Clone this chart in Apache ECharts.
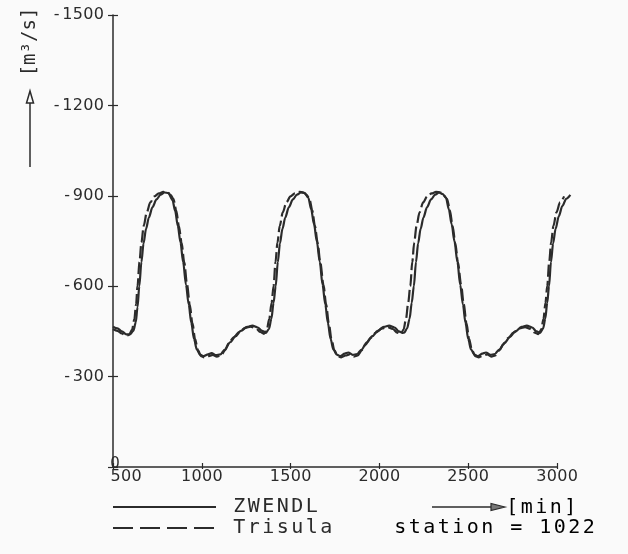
<!DOCTYPE html>
<html>
<head>
<meta charset="utf-8">
<style>
  html, body { margin: 0; padding: 0; background: #fafafa; }
  #chart { width: 628px; height: 554px; }
</style>
<script src="https://cdn.jsdelivr.net/npm/echarts@6/dist/echarts.min.js"></script>
</head>
<body>
<div id="chart"></div>
<script>
// Discharge at station 1022, two model runs (time in minutes, discharge in m³/s)
const zwendlT = [
  500, 525, 550, 575, 595, 615, 628, 638, 648, 660, 672, 686, 702, 722, 745, 768, 790, 812,
  835, 850, 865, 880, 895, 911, 926, 941, 956, 972, 990, 1010, 1035, 1055, 1080, 1105, 1130,
  1160, 1190, 1220, 1255, 1285, 1315, 1340, 1360, 1378, 1392, 1404, 1416, 1428, 1440, 1454,
  1470, 1490, 1513, 1536, 1558, 1580, 1600, 1616, 1632, 1648, 1664, 1680, 1695, 1710, 1725,
  1741, 1760, 1780, 1805, 1825, 1850, 1875, 1900, 1930, 1960, 1990, 2025, 2055, 2085, 2110,
  2130, 2140, 2156, 2170, 2182, 2194, 2206, 2218, 2232, 2248, 2268, 2291, 2314, 2336, 2356,
  2375, 2391, 2407, 2423, 2439, 2455, 2470, 2485, 2500, 2516, 2535, 2555, 2580, 2600, 2625,
  2650, 2675, 2705, 2735, 2765, 2800, 2830, 2860, 2885, 2905, 2922, 2934, 2945, 2955, 2966,
  2978, 2992, 3010, 3030, 3052, 3075
];
const zwendlQ = [
  -466, -460, -450, -440, -440, -452, -480, -530, -600, -680, -742, -790, -828, -862, -888, -904, -911, -909,
  -886, -850, -800, -745, -680, -605, -540, -478, -425, -390, -373, -368, -374, -378, -371, -374, -390,
  -414, -434, -452, -465, -469, -463, -452, -445, -458, -492, -545, -600, -680, -742, -790,
  -828, -862, -888, -904, -911, -909, -893, -855, -805, -748, -682, -605, -540, -478, -425,
  -390, -373, -368, -376, -380, -372, -375, -390, -414, -434, -452, -465, -469, -463, -450,
  -445, -446, -460, -492, -545, -600, -680, -742, -790, -828, -862, -888, -904, -911, -906,
  -893, -855, -805, -748, -682, -605, -540, -478, -425, -390, -373, -368, -376, -380, -372,
  -375, -390, -412, -432, -450, -465, -469, -463, -450, -445, -460, -492, -545, -600, -680,
  -742, -790, -832, -866, -890, -903
];

const trisulaT = [
  500, 525, 550, 572, 590, 607, 620, 630, 638, 649, 660, 673, 690, 710, 733, 758, 783, 808,
  825, 840, 856, 871, 886, 901, 917, 932, 947, 962, 978, 996, 1015, 1040, 1062, 1085, 1108,
  1132, 1150, 1180, 1210, 1245, 1275, 1305, 1330, 1350, 1366, 1380, 1393, 1404, 1415, 1426,
  1439, 1456, 1476, 1499, 1524, 1549, 1574, 1591, 1606, 1622, 1637, 1652, 1667, 1685, 1700,
  1715, 1730, 1746, 1764, 1785, 1810, 1832, 1855, 1878, 1902, 1920, 1950, 1980, 2015, 2045,
  2075, 2100, 2120, 2136, 2150, 2162, 2174, 2185, 2196, 2209, 2226, 2246, 2269, 2294, 2319,
  2344, 2362, 2381, 2397, 2412, 2427, 2442, 2460, 2475, 2490, 2505, 2521, 2540, 2560, 2585,
  2607, 2630, 2653, 2677, 2695, 2725, 2755, 2790, 2820, 2850, 2875, 2895, 2911, 2924, 2935,
  2945, 2956, 2967, 2980, 2997, 3017, 3040
];
const trisulaQ = [
  -458, -452, -443, -436, -438, -455, -490, -540, -600, -680, -745, -800, -845, -878, -898, -908, -913, -911,
  -902, -890, -852, -800, -745, -680, -605, -540, -478, -425, -388, -368, -364, -368, -372, -366, -370,
  -388, -410, -430, -448, -462, -466, -460, -448, -442, -456, -492, -545, -600, -680, -745,
  -800, -845, -878, -898, -908, -913, -911, -902, -890, -852, -800, -745, -680, -605, -540,
  -478, -425, -388, -368, -364, -370, -374, -366, -370, -388, -405, -428, -446, -460, -464,
  -458, -446, -441, -456, -492, -545, -600, -680, -745, -800, -845, -878, -898, -908, -913,
  -911, -902, -890, -852, -800, -745, -680, -605, -540, -478, -425, -388, -368, -364, -370,
  -374, -366, -370, -388, -405, -428, -446, -460, -464, -458, -446, -441, -456, -492, -545,
  -600, -680, -745, -800, -845, -878, -898
];

const yTicks = ['-1500', '-1200', '-900', '-600', '-300', '0'];
const xTicks = ['500', '1000', '1500', '2000', '2500', '3000'];
const seriesNames = ['ZWENDL', 'Trisula'];

const SANS = 'DejaVu Sans';
const MONO = 'DejaVu Sans Mono';
const INK = '#2b2b2b';
const PAPER = '#fafafa';

// Plotter-style lettering: every character sits in a box of the same width
function spaced(text, tag) {
  return text.split('').map(ch => '{' + tag + '|' + ch + '}').join('');
}
const wideRich = {
  c: { width: 14.5, height: 14, align: 'center', fontFamily: MONO, fontSize: 20, lineHeight: 14, color: INK },
  g: { width: 11, height: 14, fontFamily: MONO, fontSize: 20, lineHeight: 14 }
};
const tickRich = {
  t: { width: 10.5, align: 'center', fontFamily: SANS, fontSize: 16, color: INK },
  p: { width: 13, fontFamily: SANS, fontSize: 16 }
};

const pairs = (ts, qs) => ts.map((t, i) => [t, qs[i]]);

// The curves run a little past the last tick, so they live in a second, invisible
// grid whose scale equals the visible one but reaches further to the right.
const X_MIN = 500, X_MAX = 3000, X_EXT = 3100;
const GRID_LEFT = 113, GRID_RIGHT = 71;
const plotW = 628 - GRID_LEFT - GRID_RIGHT;
const extRight = 628 - GRID_LEFT - plotW * (X_EXT - X_MIN) / (X_MAX - X_MIN);

const chart = echarts.init(document.getElementById('chart'), null, { renderer: 'canvas' });

const yRange = { type: 'value', min: -1500, max: 0, interval: 300, inverse: true, splitLine: { show: false } };
const xRange = { type: 'value', min: X_MIN, max: X_MAX, interval: 500, splitLine: { show: false } };

// One legend block per row, so each key line sits exactly on its row
function legendRow(name, top, lineStyle) {
  return {
    orient: 'vertical',
    left: 112,
    top: top,
    padding: 0,
    itemWidth: 103,
    itemHeight: 14,
    selectedMode: false,
    itemStyle: { opacity: 0 },
    data: [lineStyle ? { name: name, lineStyle: lineStyle } : { name: name }],
    formatter: n => '{g| }' + spaced(n, 'c'),
    textStyle: { fontSize: 14, lineHeight: 14, height: 14, rich: wideRich }
  };
}

chart.setOption({
  backgroundColor: PAPER,
  animation: false,
  grid: [
    { left: GRID_LEFT, right: GRID_RIGHT, top: 15, bottom: 87 },
    { left: GRID_LEFT, right: extRight, top: 15, bottom: 87 }
  ],
  xAxis: [
    Object.assign({}, xRange, {
      gridIndex: 0,
      axisLine: { show: true, lineStyle: { color: INK, width: 1.5 } },
      axisTick: { show: true, inside: true, length: 4, lineStyle: { color: INK, width: 1.2 } },
      axisLabel: {
        margin: 2,
        formatter: v => {
          const s = spaced(xTicks[Math.round((v - X_MIN) / 500)], 't');
          return v === X_MIN ? '{p| }{p| }' + s : s;
        },
        rich: tickRich
      }
    }),
    Object.assign({}, xRange, {
      gridIndex: 0,
      position: 'bottom',
      axisLine: { show: false },
      axisTick: { show: true, inside: false, length: 2, lineStyle: { color: INK, width: 1.2 } },
      axisLabel: { show: false }
    }),
    { type: 'value', gridIndex: 1, min: X_MIN, max: X_EXT, show: false, splitLine: { show: false } }
  ],
  yAxis: [
    Object.assign({}, yRange, {
      gridIndex: 0,
      axisLine: { show: true, lineStyle: { color: INK, width: 1.5 } },
      axisTick: { show: true, inside: false, length: 5, lineStyle: { color: INK, width: 1.2 } },
      axisLabel: {
        margin: 9,
        formatter: v => (v === 0 ? '' : spaced(yTicks[Math.round((v + 1500) / 300)], 't')),
        rich: tickRich
      }
    }),
    Object.assign({}, yRange, {
      gridIndex: 0,
      position: 'left',
      axisLine: { show: false },
      axisTick: { show: true, inside: true, length: 5, lineStyle: { color: INK, width: 1.2 } },
      axisLabel: {
        margin: -2,
        align: 'center',
        verticalAlign: 'bottom',
        lineHeight: 6,
        fontFamily: SANS, fontSize: 15, color: INK,
        formatter: v => (v === 0 ? yTicks[5] : '')
      }
    }),
    Object.assign({}, yRange, { gridIndex: 1, show: false })
  ],
  legend: [
    legendRow(seriesNames[0], 497, null),
    legendRow(seriesNames[1], 518, { type: [20, 7] })
  ],
  series: [
    {
      name: seriesNames[0],
      type: 'line',
      xAxisIndex: 2,
      yAxisIndex: 2,
      data: pairs(zwendlT, zwendlQ),
      symbol: 'none',
      smooth: 0.3,
      smoothMonotone: 'x',
      clip: false,
      color: INK,
      lineStyle: { color: INK, width: 2.2 }
    },
    {
      name: seriesNames[1],
      type: 'line',
      xAxisIndex: 2,
      yAxisIndex: 2,
      data: pairs(trisulaT, trisulaQ),
      symbol: 'none',
      smooth: 0.3,
      smoothMonotone: 'x',
      clip: false,
      color: INK,
      lineStyle: { color: INK, width: 2.2, type: [12, 4] }
    }
  ],
  graphic: [
    // quantity and unit of the vertical axis
    {
      type: 'text', x: 30, y: 42, rotation: Math.PI / 2,
      style: { text: '[m³/s]', font: '19px "DejaVu Sans Mono"', fill: INK, align: 'center', verticalAlign: 'middle' }
    },
    { type: 'line', shape: { x1: 30, y1: 167, x2: 30, y2: 102 }, style: { stroke: INK, lineWidth: 1.5 } },
    { type: 'polygon', shape: { points: [[30, 91], [26.5, 103], [33.5, 103]] }, style: { fill: PAPER, stroke: INK, lineWidth: 1.5 } },
    // time arrow and unit
    { type: 'line', shape: { x1: 432, y1: 507, x2: 492, y2: 507 }, style: { stroke: INK, lineWidth: 1.5 } },
    { type: 'polygon', shape: { points: [[505, 507], [491, 503.5], [491, 510.5]] }, style: { fill: '#777', stroke: INK, lineWidth: 1.2 } },
    {
      type: 'text', x: 505, y: 508,
      style: { text: spaced('[min]', 'c'), rich: wideRich, align: 'left', verticalAlign: 'middle' }
    },
    {
      type: 'text', x: 393, y: 528,
      style: { text: spaced('station = 1022', 'c'), rich: wideRich, align: 'left', verticalAlign: 'middle' }
    }
  ]
});
</script>
</body>
</html>
